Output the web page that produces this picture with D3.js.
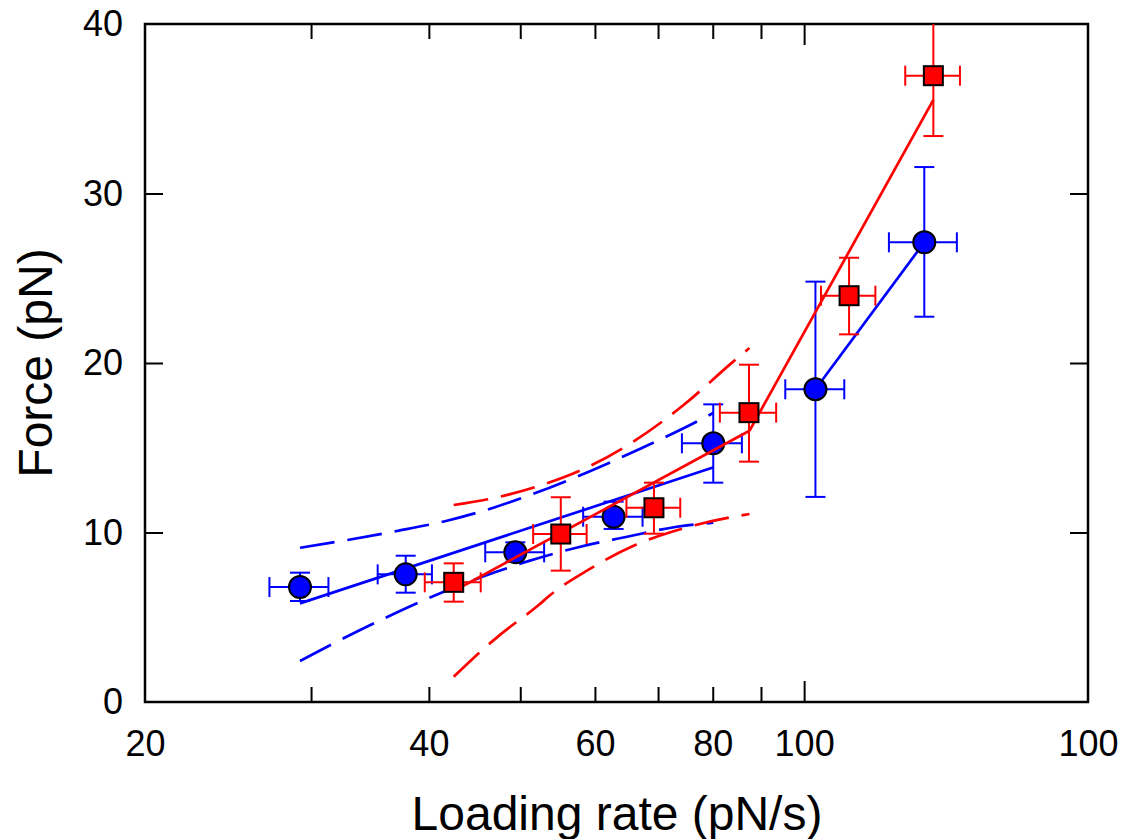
<!DOCTYPE html>
<html><head><meta charset="utf-8">
<script src="https://cdn.jsdelivr.net/npm/d3@7"></script>
<style>body{margin:0;background:#fff}svg{display:block}</style>
</head><body>
<svg id="chart" width="1135" height="839"></svg>
<script>
// ---- Data ----
const blueRate   = [29.2, 37.8, 49.4, 62.8, 80.1, 102.8, 134.1];
const blueForce  = [6.78, 7.53, 8.83, 10.93, 15.26, 18.45, 27.12];
const blueRateLo = [27.1, 35.3, 45.9, 58.3, 74.2, 95.5, 123.0];
const blueRateHi = [31.3, 40.3, 53.0, 67.4, 85.9, 110.3, 145.2];
const blueForceLo = [5.96, 6.45, 8.28, 10.21, 12.94, 12.10, 22.73];
const blueForceHi = [7.63, 8.63, 9.42, 11.82, 17.56, 24.80, 31.56];

const redRate   = [42.5, 55.2, 69.3, 87.4, 111.6, 137.1];
const redForce  = [7.06, 9.91, 11.46, 17.07, 23.97, 36.95];
const redRateLo = [39.6, 51.6, 64.8, 81.4, 104.2, 128.0];
const redRateHi = [45.4, 58.8, 73.9, 93.4, 119.0, 146.3];
const redForceLo = [5.92, 7.75, 9.93, 14.18, 21.69, 33.39];
const redForceHi = [8.18, 12.08, 12.94, 19.90, 26.21, 40.51];

// fits
const blueFitRate = [29.2, 80.2];
const blueFitForce = [5.82, 13.85];
const blueJumpRate = [102.8, 134.1];
const blueJumpForce = [18.45, 27.12];
const redFitRate = [42.5, 87.5];
const redFitForce = [6.55, 16.0];
const redJumpRate = [87.5, 137.1];
const redJumpForce = [16.0, 35.52];

// confidence bands
const blueUpRate  = [29.2, 32.8, 37.0, 41.7, 47.0, 51.2, 59.7, 67.3, 75.7, 80.1];
const blueUpForce = [9.10, 9.56, 10.09, 10.68, 11.49, 12.21, 13.69, 14.99, 16.34, 17.05];
const blueLoRate  = [29.2, 31.8, 35.8, 40.3, 47.0, 51.2, 57.9, 64.9, 73.3, 80.1];
const blueLoForce = [2.42, 3.50, 4.91, 6.21, 7.65, 8.34, 9.16, 9.75, 10.34, 10.58];
const redUpRate   = [42.5, 46.2, 52.3, 58.6, 65.9, 74.5, 84.1, 87.5];
const redUpForce  = [11.62, 11.96, 12.74, 13.79, 15.36, 17.52, 20.08, 20.88];
const redLoRate   = [42.5, 46.2, 47.8, 52.3, 53.8, 58.6, 66.2, 74.5, 84.1, 87.5];
const redLoForce  = [1.49, 3.36, 4.05, 5.72, 6.31, 7.69, 9.26, 10.25, 10.93, 11.09];

// axes
const xLabelValues = [20, 40, 60, 80, 100, 200];
const xLabelText   = ["20", "40", "60", "80", "100", "100"];
const xMinorTicks  = [30, 40, 50, 60, 70, 80, 90];
const xMajorTicks  = [100];
const yTicks       = [0, 10, 20, 30, 40];
const xTitle = "Loading rate (pN/s)";
const yTitle = "Force (pN)";

// ---- Drawing ----
const L = 145, R = 1088, T = 24, B = 702;
const svg = d3.select("#chart");
const x = d3.scaleLog().domain([20, 200]).range([L, R]);
const y = d3.scaleLinear().domain([0, 40]).range([B, T]);
const FONT = "'Liberation Sans', Arial, sans-serif";

svg.append("defs").append("clipPath").attr("id", "clip")
  .append("rect").attr("x", L).attr("y", T).attr("width", R - L).attr("height", B - T);

function styleAxis(g) {
  g.select(".domain").remove();
  g.selectAll(".tick line").attr("stroke", "#000").attr("stroke-width", 2);
  g.selectAll("text").attr("font-family", FONT).attr("font-size", 36).attr("fill", "#000");
}

// bottom ticks
svg.append("g").attr("transform", `translate(0,${B})`)
  .call(d3.axisBottom(x).tickValues(xMinorTicks).tickSize(-15).tickFormat(""))
  .call(styleAxis);
svg.append("g").attr("transform", `translate(0,${B})`)
  .call(d3.axisBottom(x).tickValues(xMajorTicks).tickSize(-21).tickFormat(""))
  .call(styleAxis);
svg.append("g").attr("transform", `translate(0,${B})`)
  .call(d3.axisBottom(x).tickValues(xLabelValues).tickSize(0).tickPadding(28)
        .tickFormat((d, i) => xLabelText[i]))
  .call(styleAxis);
// top ticks
svg.append("g").attr("transform", `translate(0,${T})`)
  .call(d3.axisTop(x).tickValues(xMinorTicks).tickSize(-15).tickFormat(""))
  .call(styleAxis);
svg.append("g").attr("transform", `translate(0,${T})`)
  .call(d3.axisTop(x).tickValues(xMajorTicks).tickSize(-21).tickFormat(""))
  .call(styleAxis);
// left
const gl = svg.append("g").attr("transform", `translate(${L},0)`)
  .call(d3.axisLeft(y).tickValues(yTicks).tickSize(-18).tickPadding(22).tickFormat(d3.format("d")))
  .call(styleAxis);
gl.selectAll(".tick").filter(d => d === 0 || d === 40).select("line").remove();
// right
const gr = svg.append("g").attr("transform", `translate(${R},0)`)
  .call(d3.axisRight(y).tickValues(yTicks).tickSize(-18).tickFormat(""))
  .call(styleAxis);
gr.selectAll(".tick").filter(d => d === 0 || d === 40).select("line").remove();

// frame
svg.append("rect").attr("x", L).attr("y", T).attr("width", R - L).attr("height", B - T)
  .attr("fill", "none").attr("stroke", "#000").attr("stroke-width", 2.5);

// titles
svg.append("text").attr("x", 617).attr("y", 830).attr("text-anchor", "middle")
  .attr("font-family", FONT).attr("font-size", 48).text(xTitle);
svg.append("text").attr("transform", "translate(52,363) rotate(-90)").attr("text-anchor", "middle")
  .attr("font-family", FONT).attr("font-size", 48).text(yTitle);

const plot = svg.append("g").attr("clip-path", "url(#clip)");
const lineGen = d3.line().x(d => x(d[0])).y(d => y(d[1]));
const curveGen = d3.line().x(d => x(d[0])).y(d => y(d[1])).curve(d3.curveMonotoneX);
const zip = (a, b) => a.map((v, i) => [v, b[i]]);

function drawSeries(color, rate, force, rLo, rHi, fLo, fHi, fit, jump, up, lo, marker) {
  const g = plot.append("g");
  const cap = 10;
  // error bars
  rate.forEach((r, i) => {
    const cx = x(r), cy = y(force[i]);
    const eb = g.append("g").attr("stroke", color).attr("stroke-width", 2).attr("fill", "none");
    eb.append("line").attr("x1", cx).attr("x2", cx).attr("y1", y(fLo[i])).attr("y2", y(fHi[i]));
    eb.append("line").attr("x1", cx - cap).attr("x2", cx + cap).attr("y1", y(fLo[i])).attr("y2", y(fLo[i]));
    eb.append("line").attr("x1", cx - cap).attr("x2", cx + cap).attr("y1", y(fHi[i])).attr("y2", y(fHi[i]));
    eb.append("line").attr("x1", x(rLo[i])).attr("x2", x(rHi[i])).attr("y1", cy).attr("y2", cy);
    eb.append("line").attr("x1", x(rLo[i])).attr("x2", x(rLo[i])).attr("y1", cy - cap).attr("y2", cy + cap);
    eb.append("line").attr("x1", x(rHi[i])).attr("x2", x(rHi[i])).attr("y1", cy - cap).attr("y2", cy + cap);
  });
  // bands
  [up, lo].forEach(b => g.append("path").attr("d", curveGen(b)).attr("fill", "none")
    .attr("stroke", color).attr("stroke-width", 2.7).attr("stroke-dasharray", "35,13"));
  // fits
  [fit, jump].forEach(f => g.append("path").attr("d", lineGen(f)).attr("fill", "none")
    .attr("stroke", color).attr("stroke-width", 2.7));
  // markers
  rate.forEach((r, i) => {
    const cx = x(r), cy = y(force[i]);
    if (marker === "circle") {
      g.append("circle").attr("cx", cx).attr("cy", cy).attr("r", 11)
        .attr("fill", color).attr("stroke", "#000").attr("stroke-width", 2);
    } else {
      g.append("rect").attr("x", cx - 9.5).attr("y", cy - 9.5).attr("width", 19).attr("height", 19)
        .attr("fill", color).attr("stroke", "#000").attr("stroke-width", 2);
    }
  });
}

drawSeries("#0000ff", blueRate, blueForce, blueRateLo, blueRateHi, blueForceLo, blueForceHi,
  zip(blueFitRate, blueFitForce), zip(blueJumpRate, blueJumpForce),
  zip(blueUpRate, blueUpForce), zip(blueLoRate, blueLoForce), "circle");
drawSeries("#ff0000", redRate, redForce, redRateLo, redRateHi, redForceLo, redForceHi,
  zip(redFitRate, redFitForce), zip(redJumpRate, redJumpForce),
  zip(redUpRate, redUpForce), zip(redLoRate, redLoForce), "square");
</script>
</body></html>
